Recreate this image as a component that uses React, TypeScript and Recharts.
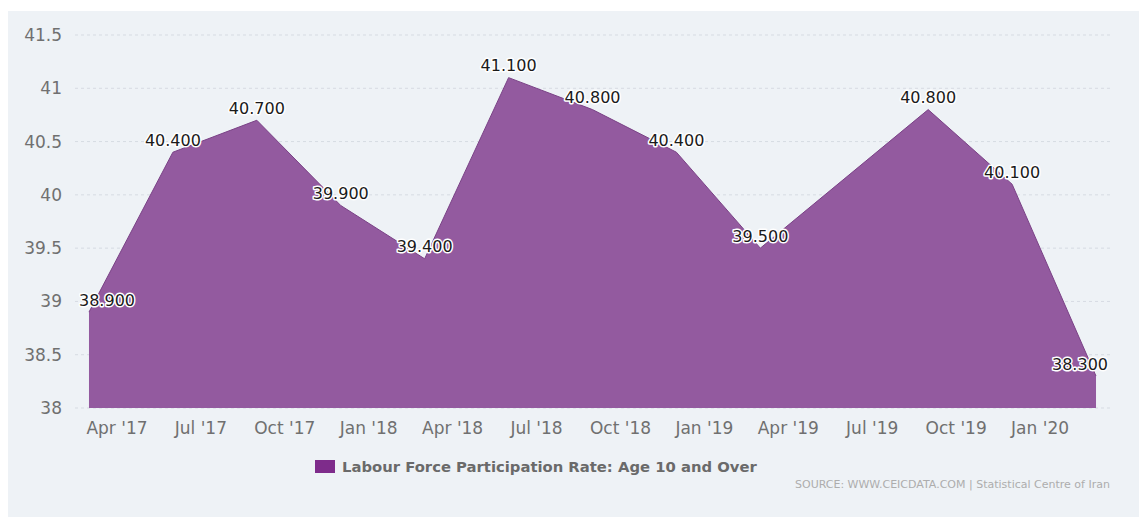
import React from 'react';
import { AreaChart, Area, XAxis, YAxis, CartesianGrid, LabelList, Legend } from 'recharts';

// Quarterly observations (year, month)
const periods: string[] = [
  '2017-03', '2017-06', '2017-09', '2017-12',
  '2018-03', '2018-06', '2018-09', '2018-12',
  '2019-03', '2019-09', '2019-12', '2020-03',
];
const values: number[] = [
  38.9, 40.4, 40.7, 39.9,
  39.4, 41.1, 40.8, 40.4,
  39.5, 40.8, 40.1, 38.3,
];
const tickPeriods: string[] = [
  '2017-04', '2017-07', '2017-10', '2018-01', '2018-04', '2018-07',
  '2018-10', '2019-01', '2019-04', '2019-07', '2019-10', '2020-01',
];
const tickLabels: string[] = [
  "Apr '17", "Jul '17", "Oct '17", "Jan '18", "Apr '18", "Jul '18",
  "Oct '18", "Jan '19", "Apr '19", "Jul '19", "Oct '19", "Jan '20",
];
const yTicks: number[] = [38, 38.5, 39, 39.5, 40, 40.5, 41, 41.5];
const seriesName = 'Labour Force Participation Rate: Age 10 and Over';
const sourceText = 'SOURCE: WWW.CEICDATA.COM | Statistical Centre of Iran';

const toMonth = (p: string) => {
  const [y, m] = p.split('-').map(Number);
  return (y - 2017) * 12 + (m - 1);
};

const data = periods.map((p, i) => ({ m: toMonth(p), v: values[i] }));
const tickMonths = tickPeriods.map(toMonth);
const tickMap: Record<number, string> = {};
tickMonths.forEach((m, i) => { tickMap[m] = tickLabels[i]; });

const W = 1139;
const H = 517;
const LABEL_MIN_X = 79;
const LABEL_MAX_X = 1108;
const FONT = '"DejaVu Sans", Verdana, sans-serif';

const ValueLabel = (props: any) => {
  const { x, y, value } = props;
  if (value == null) return null;
  const txt = Number(value).toFixed(3);
  const half = 28;
  const cx = Math.min(Math.max(x, LABEL_MIN_X + half), LABEL_MAX_X - half);
  return (
    <text
      x={cx}
      y={y - 12}
      textAnchor="middle"
      dominantBaseline="central"
      fontFamily={FONT}
      fontSize={16}
      fill="#1a1a1a"
      stroke="#ffffff"
      strokeWidth={3}
      strokeLinejoin="round"
      paintOrder="stroke"
    >
      {txt}
    </text>
  );
};

const LegendContent = (props: any) => {
  const { payload } = props;
  const item = payload && payload[0];
  return (
    <div style={{ position: 'relative', width: W, height: 50, fontFamily: FONT }}>
      <div style={{ position: 'absolute', left: 315, top: 2, display: 'flex', alignItems: 'center', whiteSpace: 'nowrap' }}>
        <span style={{ display: 'inline-block', width: 20, height: 13, background: '#7e2c8b', marginRight: 7 }} />
        <span style={{ fontSize: 14.8, fontWeight: 'bold', color: '#6a6a6a' }}>{item ? item.value : seriesName}</span>
      </div>
      <div style={{ position: 'absolute', left: 795, top: 22, fontSize: 11, color: '#adadad', whiteSpace: 'nowrap' }}>
        {sourceText}
      </div>
    </div>
  );
};

export default function App() {
  return (
    <div style={{ position: 'absolute', left: 0, top: 0, width: W, height: H, background: '#ffffff', overflow: 'hidden' }}>
      <div style={{ position: 'absolute', left: 8, top: 11, right: 0, bottom: 0, background: '#eef2f6' }} />
      <div style={{ position: 'absolute', left: 0, top: 0 }}>
        <AreaChart width={W} height={H} data={data} margin={{ top: 35, right: 29, bottom: 79, left: 0 }}>
          <CartesianGrid vertical={false} stroke="#d6dbe2" strokeDasharray="3 3" />
          <XAxis
            dataKey="m"
            type="number"
            domain={[1.5, 38.5]}
            ticks={tickMonths}
            tickFormatter={(m: number) => tickMap[m] ?? ''}
            axisLine={false}
            tickLine={false}
            tickSize={0}
            tickMargin={14}
            height={30}
            interval={0}
            tick={{ fontFamily: FONT, fontSize: 17, fill: '#707070' }}
          />
          <YAxis
            type="number"
            domain={[38, 41.5]}
            ticks={yTicks}
            allowDataOverflow
            axisLine={false}
            tickLine={false}
            tickSize={0}
            tickMargin={13}
            width={75}
            tickFormatter={(v: number) => String(v)}
            tick={{ fontFamily: FONT, fontSize: 17, fill: '#707070' }}
          />
          <Legend
            layout="horizontal"
            verticalAlign="middle"
            align="center"
            wrapperStyle={{ top: 456, left: 0, width: W }}
            content={<LegendContent />}
          />
          <Area
            type="linear"
            dataKey="v"
            name={seriesName}
            stroke="#7a4286"
            strokeWidth={1}
            fill="#935a9f"
            fillOpacity={1}
            dot={false}
            activeDot={false}
            connectNulls
            isAnimationActive={false}
          >
            <LabelList dataKey="v" content={<ValueLabel />} />
          </Area>
        </AreaChart>
      </div>
    </div>
  );
}
